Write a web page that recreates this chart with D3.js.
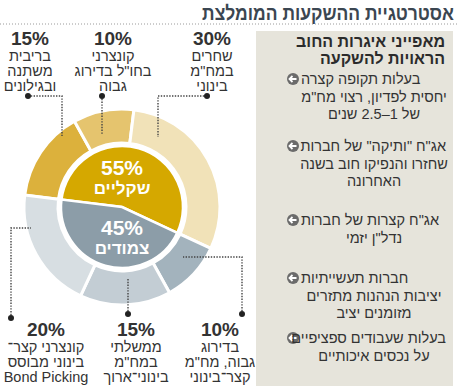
<!DOCTYPE html>
<html lang="he">
<head>
<meta charset="UTF-8">
<title>אסטרטגיית ההשקעות המומלצת</title>
<script src="https://cdnjs.cloudflare.com/ajax/libs/d3/7.8.5/d3.min.js"></script>
<style>
  body { margin: 0; background: #fff; }
  svg { display: block; font-family: "Liberation Sans", Arial, sans-serif; }
</style>
</head>
<body>
<script>
// ---- data ----
const title = "אסטרטגיית ההשקעות המומלצת";
const innerNames = ["שקליים", "צמודים"];
const innerValues = [55, 45];
const outerValues = [15, 10, 30, 10, 15, 20];
const outerLabels = [
  ["בריבית", "משתנה", "ובגילונים"],
  ["קונצרני", "בחו\"ל בדירוג", "גבוה"],
  ["שחרים", "במח\"מ", "בינוני"],
  ["בדירוג", "גבוה, מח\"מ", "קצר־בינוני"],
  ["ממשלתי", "במח\"מ", "בינוני־ארוך"],
  ["קונצרני קצר־", "בינוני מבוסס", "Bond Picking"]
];
const panelTitle = ["מאפייני איגרות החוב", "הראויות להשקעה"];
const bullets = [
  ["בעלות תקופה קצרה", "יחסית לפדיון, רצוי מח\"מ", "של 1–2.5 שנים"],
  ["אג\"ח \"ותיקה\" של חברות", "שחזרו והנפיקו חוב בשנה", "האחרונה"],
  ["אג\"ח קצרות של חברות", "נדל\"ן יזמי"],
  ["חברות תעשייתיות", "יציבות הנהנות מתזרים", "מזומנים יציב"],
  ["בעלות שעבודים ספציפיים", "על נכסים איכותיים"]
];

// ---- layout ----
const width = 458, height = 386;
const cx = 122, cy = 207;
const rInner = 61, rRingIn = 64, rRingOut = 98;
const startAngle = -83 * Math.PI / 180;

const innerColors = ["#d5a800", "#8c9da8"];
const outerColors = ["#dcb13c", "#e5c46e", "#f1e2b8", "#a3b3bd", "#c3cdd4", "#d7dee2"];

// label blocks: center x, percent baseline, leader polyline (first point = dot)
const labelLayout = [
  { x: 30,  y: 45,  leader: [[28, 96], [62, 96], [62, 136]] },
  { x: 113, y: 45,  leader: [[102, 96], [102, 134]] },
  { x: 212, y: 45,  leader: [[207, 96], [158, 96], [158, 137]] },
  { x: 220, y: 336, leader: [[242, 314], [242, 257], [183, 257]] },
  { x: 136, y: 336, leader: [[128, 314], [128, 279]] },
  { x: 46,  y: 336, leader: [[11, 318], [11, 228], [31, 228]] }
];
const bulletTop = [84, 151, 225, 283, 343];
const lineH = 17.5;

const svg = d3.select("body").append("svg")
  .attr("width", width)
  .attr("height", height);

// title: squeezed horizontally to the width of the original condensed face
const titleG = svg.append("g");
const titleText = titleG.append("text")
  .attr("direction", "rtl")
  .attr("text-anchor", "middle")
  .attr("font-size", 20).attr("font-weight", "bold")
  .attr("fill", "#3b4651")
  .text(title);
const tw = titleText.node().getComputedTextLength();
titleG.attr("transform", `translate(${454 - 126},20) scale(${252 / tw},1)`);

svg.append("line")
  .attr("x1", 0).attr("x2", width).attr("y1", 24).attr("y2", 24)
  .attr("stroke", "#9a9a9a").attr("stroke-width", 1)
  .attr("stroke-dasharray", "1,2");

// right panel
svg.append("rect")
  .attr("x", 256).attr("y", 31).attr("width", 197).attr("height", height - 31)
  .attr("fill", "#e6e4db");

// helper for placing rtl text by right edge / left edge / center
function addText(g, str, x, y, opts) {
  const el = g.append("text")
    .attr("y", y)
    .attr("direction", "rtl")
    .attr("text-anchor", "middle")
    .attr("font-size", opts.size)
    .attr("font-weight", opts.weight || "normal")
    .attr("fill", opts.fill || "#333")
    .text(str);
  const w = el.node().getComputedTextLength();
  let px = x;
  if (opts.align === "right") px = x - w / 2;
  if (opts.align === "left") px = Math.min(x + w / 2, opts.maxRight - w / 2);
  el.attr("x", px);
  return el;
}

// pies
const pie = d3.pie().sort(null).startAngle(startAngle).endAngle(startAngle + 2 * Math.PI);
const innerArc = d3.arc().innerRadius(0).outerRadius(rInner);
const outerArc = d3.arc().innerRadius(rRingIn).outerRadius(rRingOut);

const g = svg.append("g").attr("transform", `translate(${cx},${cy})`);

g.selectAll("path.outer")
  .data(pie(outerValues))
  .join("path")
  .attr("class", "outer")
  .attr("d", outerArc)
  .attr("fill", (d, i) => outerColors[i])
  .attr("stroke", "#fff")
  .attr("stroke-width", 3);

g.append("circle").attr("r", rRingIn - 0.5).attr("fill", "#fff");

g.selectAll("path.inner")
  .data(pie(innerValues))
  .join("path")
  .attr("class", "inner")
  .attr("d", innerArc)
  .attr("fill", (d, i) => innerColors[i])
  .attr("stroke", "#fff")
  .attr("stroke-width", 2.5);

// inner labels
innerValues.forEach((v, i) => {
  const dy = i === 0 ? -32 : 28;
  g.append("text")
    .attr("x", 0).attr("y", dy)
    .attr("text-anchor", "middle")
    .attr("font-size", 21).attr("font-weight", "bold")
    .attr("fill", "#fff")
    .text(v + "%");
  g.append("text")
    .attr("x", 0).attr("y", dy + 19)
    .attr("direction", "rtl")
    .attr("text-anchor", "middle")
    .attr("font-size", 17).attr("font-weight", "bold")
    .attr("fill", "#fff")
    .text(innerNames[i]);
});

// outer labels + leaders
const line = d3.line();
outerValues.forEach((v, i) => {
  const L = labelLayout[i];
  svg.append("path")
    .attr("d", line(L.leader))
    .attr("fill", "none")
    .attr("stroke", "#444")
    .attr("stroke-width", 1.4)
    .attr("stroke-dasharray", "1.4,1.4");
  svg.append("circle")
    .attr("cx", L.leader[0][0]).attr("cy", L.leader[0][1])
    .attr("r", 3).attr("fill", "#222");
  svg.append("text")
    .attr("x", L.x).attr("y", L.y)
    .attr("text-anchor", "middle")
    .attr("font-size", 19).attr("font-weight", "bold")
    .attr("fill", "#333")
    .text(v + "%");
  outerLabels[i].forEach((s, j) => {
    addText(svg, s, L.x, L.y + 15.5 + j * 15, { size: 14.5, align: "center" });
  });
});

// panel text
panelTitle.forEach((s, j) => {
  addText(svg, s, 445, 47 + j * 16.5, { size: 16, weight: "bold", fill: "#2b2b2b", align: "right" });
});

bullets.forEach((lines, i) => {
  const y0 = bulletTop[i];
  const arrow = svg.append("g").attr("transform", `translate(293,${y0 - 5})`);
  arrow.append("circle").attr("r", 6).attr("fill", "#6b6b6b");
  arrow.append("path")
    .attr("d", "M3.5,0H-3.2M-0.5,-3L-3.5,0L-0.5,3")
    .attr("fill", "none").attr("stroke", "#fff").attr("stroke-width", 1.8);
  lines.forEach((s, j) => {
    if (j === 0) addText(svg, s, 301, y0, { size: 14.5, align: "left", maxRight: 446 });
    else addText(svg, s, 374, y0 + j * lineH, { size: 14.5, align: "center" });
  });
});
</script>
</body>
</html>
